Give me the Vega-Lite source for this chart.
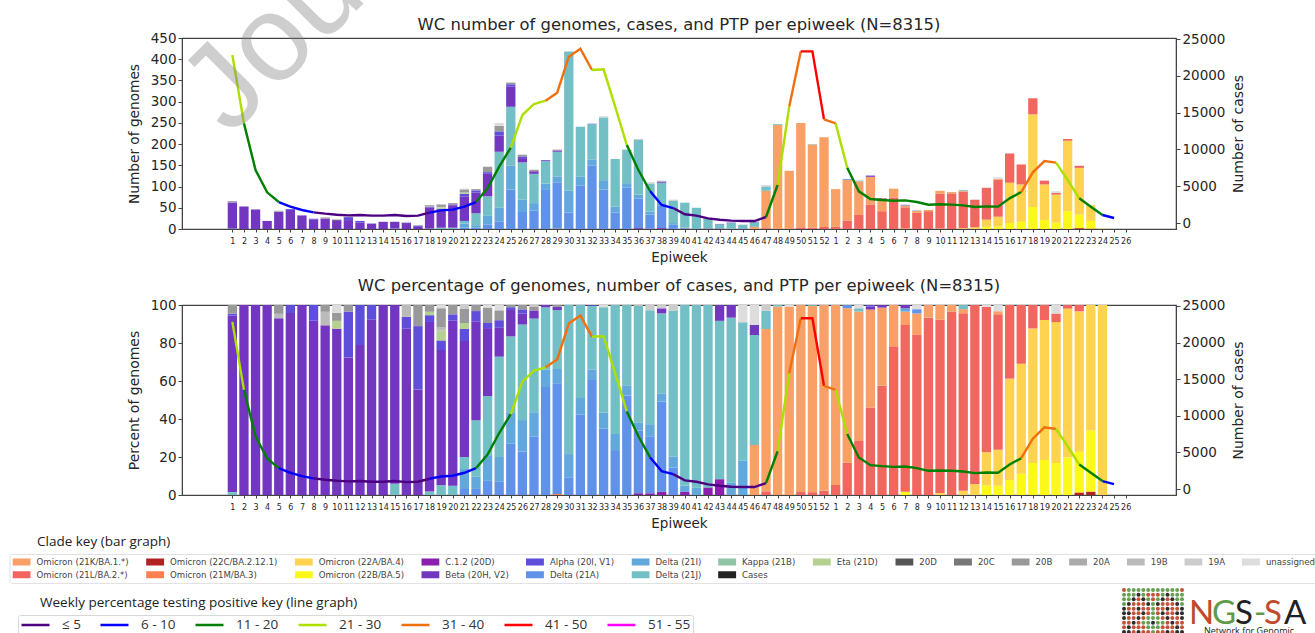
{"$schema":"https://vega.github.io/schema/vega-lite/v6.json","autosize":"none","background":"white","padding":{"left":182,"top":38,"right":1133,"bottom":595},"bounds":"flush","spacing":76,"config":{"font":"DejaVu Sans","view":{"stroke":"#444","strokeWidth":1.2},"axis":{"grid":false,"domainColor":"#444","tickColor":"#444","labelColor":"#262626","titleColor":"#262626","titleFontWeight":"normal"},"title":{"fontWeight":"normal","color":"#262626"}},
"datasets":{"ptp":[
{"i":1,"cases":22826,"seg":1,"ptp":"21 - 30"},{"i":2,"cases":13540,"seg":1,"ptp":"21 - 30"},
{"i":2,"cases":13540,"seg":2,"ptp":"11 - 20"},{"i":3,"cases":7200,"seg":2,"ptp":"11 - 20"},{"i":4,"cases":4170,"seg":2,"ptp":"11 - 20"},{"i":5,"cases":2850,"seg":2,"ptp":"11 - 20"},
{"i":5,"cases":2850,"seg":3,"ptp":"6 - 10"},{"i":6,"cases":2220,"seg":3,"ptp":"6 - 10"},{"i":7,"cases":1770,"seg":3,"ptp":"6 - 10"},{"i":8,"cases":1450,"seg":3,"ptp":"6 - 10"},
{"i":8,"cases":1450,"seg":4,"ptp":"≤ 5"},{"i":9,"cases":1270,"seg":4,"ptp":"≤ 5"},{"i":10,"cases":1130,"seg":4,"ptp":"≤ 5"},{"i":11,"cases":1040,"seg":4,"ptp":"≤ 5"},{"i":12,"cases":1090,"seg":4,"ptp":"≤ 5"},{"i":13,"cases":1000,"seg":4,"ptp":"≤ 5"},{"i":14,"cases":1000,"seg":4,"ptp":"≤ 5"},{"i":15,"cases":1090,"seg":4,"ptp":"≤ 5"},{"i":16,"cases":950,"seg":4,"ptp":"≤ 5"},{"i":17,"cases":1000,"seg":4,"ptp":"≤ 5"},{"i":18,"cases":1400,"seg":4,"ptp":"≤ 5"},
{"i":18,"cases":1400,"seg":5,"ptp":"6 - 10"},{"i":19,"cases":1720,"seg":5,"ptp":"6 - 10"},{"i":20,"cases":1810,"seg":5,"ptp":"6 - 10"},{"i":21,"cases":2220,"seg":5,"ptp":"6 - 10"},{"i":22,"cases":2850,"seg":5,"ptp":"6 - 10"},
{"i":22,"cases":2850,"seg":6,"ptp":"11 - 20"},{"i":23,"cases":4710,"seg":6,"ptp":"11 - 20"},{"i":24,"cases":7650,"seg":6,"ptp":"11 - 20"},{"i":25,"cases":10235,"seg":6,"ptp":"11 - 20"},
{"i":25,"cases":10235,"seg":7,"ptp":"21 - 30"},{"i":26,"cases":14670,"seg":7,"ptp":"21 - 30"},{"i":27,"cases":16170,"seg":7,"ptp":"21 - 30"},{"i":28,"cases":16620,"seg":7,"ptp":"21 - 30"},
{"i":28,"cases":16620,"seg":8,"ptp":"31 - 40"},{"i":29,"cases":17700,"seg":8,"ptp":"31 - 40"},{"i":30,"cases":22600,"seg":8,"ptp":"31 - 40"},{"i":31,"cases":23690,"seg":8,"ptp":"31 - 40"},{"i":32,"cases":20790,"seg":8,"ptp":"31 - 40"},
{"i":32,"cases":20790,"seg":9,"ptp":"21 - 30"},{"i":33,"cases":20880,"seg":9,"ptp":"21 - 30"},{"i":34,"cases":15800,"seg":9,"ptp":"21 - 30"},{"i":35,"cases":10600,"seg":9,"ptp":"21 - 30"},
{"i":35,"cases":10600,"seg":10,"ptp":"11 - 20"},{"i":36,"cases":7200,"seg":10,"ptp":"11 - 20"},{"i":37,"cases":4350,"seg":10,"ptp":"11 - 20"},
{"i":37,"cases":4350,"seg":11,"ptp":"6 - 10"},{"i":38,"cases":2450,"seg":11,"ptp":"6 - 10"},{"i":39,"cases":2030,"seg":11,"ptp":"6 - 10"},
{"i":39,"cases":2030,"seg":12,"ptp":"≤ 5"},{"i":40,"cases":1180,"seg":12,"ptp":"≤ 5"},{"i":41,"cases":1000,"seg":12,"ptp":"≤ 5"},{"i":42,"cases":630,"seg":12,"ptp":"≤ 5"},{"i":43,"cases":450,"seg":12,"ptp":"≤ 5"},{"i":44,"cases":320,"seg":12,"ptp":"≤ 5"},{"i":45,"cases":270,"seg":12,"ptp":"≤ 5"},{"i":46,"cases":270,"seg":12,"ptp":"≤ 5"},{"i":47,"cases":815,"seg":12,"ptp":"≤ 5"},
{"i":47,"cases":815,"seg":13,"ptp":"11 - 20"},{"i":48,"cases":5160,"seg":13,"ptp":"11 - 20"},
{"i":48,"cases":5160,"seg":14,"ptp":"21 - 30"},{"i":49,"cases":15800,"seg":14,"ptp":"21 - 30"},
{"i":49,"cases":15800,"seg":15,"ptp":"31 - 40"},{"i":50,"cases":23320,"seg":15,"ptp":"31 - 40"},
{"i":50,"cases":23320,"seg":16,"ptp":"41 - 50"},{"i":51,"cases":23320,"seg":16,"ptp":"41 - 50"},{"i":52,"cases":14085,"seg":16,"ptp":"41 - 50"},
{"i":52,"cases":14085,"seg":17,"ptp":"31 - 40"},{"i":53,"cases":13540,"seg":17,"ptp":"31 - 40"},
{"i":53,"cases":13540,"seg":18,"ptp":"21 - 30"},{"i":54,"cases":7520,"seg":18,"ptp":"21 - 30"},
{"i":54,"cases":7520,"seg":19,"ptp":"11 - 20"},{"i":55,"cases":4300,"seg":19,"ptp":"11 - 20"},{"i":56,"cases":3260,"seg":19,"ptp":"11 - 20"},{"i":57,"cases":3125,"seg":19,"ptp":"11 - 20"},{"i":58,"cases":3030,"seg":19,"ptp":"11 - 20"},{"i":59,"cases":3080,"seg":19,"ptp":"11 - 20"},{"i":60,"cases":2850,"seg":19,"ptp":"11 - 20"},{"i":61,"cases":2490,"seg":19,"ptp":"11 - 20"},{"i":62,"cases":2540,"seg":19,"ptp":"11 - 20"},{"i":63,"cases":2490,"seg":19,"ptp":"11 - 20"},{"i":64,"cases":2400,"seg":19,"ptp":"11 - 20"},{"i":65,"cases":2170,"seg":19,"ptp":"11 - 20"},{"i":66,"cases":2260,"seg":19,"ptp":"11 - 20"},{"i":67,"cases":2220,"seg":19,"ptp":"11 - 20"},{"i":68,"cases":3350,"seg":19,"ptp":"11 - 20"},{"i":69,"cases":4210,"seg":19,"ptp":"11 - 20"},
{"i":69,"cases":4210,"seg":20,"ptp":"31 - 40"},{"i":70,"cases":6880,"seg":20,"ptp":"31 - 40"},{"i":71,"cases":8420,"seg":20,"ptp":"31 - 40"},{"i":72,"cases":8200,"seg":20,"ptp":"31 - 40"},
{"i":72,"cases":8200,"seg":21,"ptp":"21 - 30"},{"i":73,"cases":5840,"seg":21,"ptp":"21 - 30"},{"i":74,"cases":3350,"seg":21,"ptp":"21 - 30"},
{"i":74,"cases":3350,"seg":22,"ptp":"11 - 20"},{"i":75,"cases":2220,"seg":22,"ptp":"11 - 20"},{"i":76,"cases":1090,"seg":22,"ptp":"11 - 20"},
{"i":76,"cases":1090,"seg":23,"ptp":"6 - 10"},{"i":77,"cases":680,"seg":23,"ptp":"6 - 10"}
],
"genomes":[
{"i":1,"clade":"Delta (21J)","n":1},{"i":1,"clade":"Beta (20H, V2)","n":61},{"i":1,"clade":"Alpha (20I, V1)","n":0.7},{"i":1,"clade":"20B","n":3},
{"i":2,"clade":"Beta (20H, V2)","n":53},{"i":3,"clade":"Beta (20H, V2)","n":46},{"i":4,"clade":"Beta (20H, V2)","n":19},
{"i":5,"clade":"Beta (20H, V2)","n":40},{"i":5,"clade":"19B","n":1},{"i":5,"clade":"20B","n":2},
{"i":6,"clade":"Beta (20H, V2)","n":45},{"i":6,"clade":"Alpha (20I, V1)","n":2},
{"i":7,"clade":"Beta (20H, V2)","n":32},
{"i":8,"clade":"Beta (20H, V2)","n":22},{"i":8,"clade":"Alpha (20I, V1)","n":2},
{"i":9,"clade":"Beta (20H, V2)","n":25},{"i":9,"clade":"19B","n":2},{"i":9,"clade":"20B","n":1},
{"i":10,"clade":"Beta (20H, V2)","n":21},{"i":10,"clade":"Eta (21D)","n":1},{"i":10,"clade":"20B","n":1},{"i":10,"clade":"unassigned","n":1},
{"i":11,"clade":"Beta (20H, V2)","n":21},{"i":11,"clade":"Alpha (20I, V1)","n":7},{"i":11,"clade":"20B","n":1},
{"i":12,"clade":"Beta (20H, V2)","n":15},{"i":12,"clade":"Alpha (20I, V1)","n":4},
{"i":13,"clade":"Beta (20H, V2)","n":12},{"i":13,"clade":"Alpha (20I, V1)","n":1},
{"i":14,"clade":"Beta (20H, V2)","n":17},
{"i":15,"clade":"Delta (21J)","n":1},{"i":15,"clade":"Beta (20H, V2)","n":16},
{"i":16,"clade":"Beta (20H, V2)","n":14},{"i":16,"clade":"Alpha (20I, V1)","n":1},{"i":16,"clade":"19B","n":1},
{"i":17,"clade":"Beta (20H, V2)","n":5},{"i":17,"clade":"Alpha (20I, V1)","n":3},{"i":17,"clade":"20B","n":1},
{"i":18,"clade":"Delta (21J)","n":1},{"i":18,"clade":"Beta (20H, V2)","n":50},{"i":18,"clade":"Alpha (20I, V1)","n":2},{"i":18,"clade":"Eta (21D)","n":1},{"i":18,"clade":"20B","n":2},
{"i":19,"clade":"Delta (21J)","n":3},{"i":19,"clade":"Beta (20H, V2)","n":42},{"i":19,"clade":"Alpha (20I, V1)","n":3},{"i":19,"clade":"Eta (21D)","n":3},{"i":19,"clade":"19B","n":1},{"i":19,"clade":"20B","n":6},{"i":19,"clade":"unassigned","n":1},
{"i":20,"clade":"Delta (21J)","n":3},{"i":20,"clade":"Beta (20H, V2)","n":53},{"i":20,"clade":"Alpha (20I, V1)","n":2},{"i":20,"clade":"20B","n":3},
{"i":21,"clade":"Delta (21A)","n":3},{"i":21,"clade":"Delta (21I)","n":10},{"i":21,"clade":"Delta (21J)","n":6},{"i":21,"clade":"Beta (20H, V2)","n":58},{"i":21,"clade":"Alpha (20I, V1)","n":6},{"i":21,"clade":"Eta (21D)","n":3},{"i":21,"clade":"20B","n":7},{"i":21,"clade":"19A","n":2},
{"i":22,"clade":"Delta (21A)","n":3},{"i":22,"clade":"Delta (21I)","n":6},{"i":22,"clade":"Delta (21J)","n":28},{"i":22,"clade":"Beta (20H, V2)","n":49},{"i":22,"clade":"Alpha (20I, V1)","n":5},{"i":22,"clade":"20B","n":3},
{"i":23,"clade":"Delta (21A)","n":11},{"i":23,"clade":"Delta (21I)","n":20},{"i":23,"clade":"Delta (21J)","n":46},{"i":23,"clade":"Beta (20H, V2)","n":53},{"i":23,"clade":"Alpha (20I, V1)","n":4},{"i":23,"clade":"20B","n":12},{"i":23,"clade":"unassigned","n":2},
{"i":24,"clade":"Delta (21A)","n":18},{"i":24,"clade":"Delta (21I)","n":32},{"i":24,"clade":"Delta (21J)","n":132},{"i":24,"clade":"Beta (20H, V2)","n":38},{"i":24,"clade":"Alpha (20I, V1)","n":10},{"i":24,"clade":"20B","n":13},{"i":24,"clade":"unassigned","n":7},
{"i":25,"clade":"Delta (21A)","n":93},{"i":25,"clade":"Delta (21I)","n":56},{"i":25,"clade":"Delta (21J)","n":139},{"i":25,"clade":"Beta (20H, V2)","n":48},{"i":25,"clade":"Alpha (20I, V1)","n":5},{"i":25,"clade":"20B","n":4},
{"i":26,"clade":"Delta (21A)","n":40},{"i":26,"clade":"Delta (21I)","n":29},{"i":26,"clade":"Delta (21J)","n":88},{"i":26,"clade":"Beta (20H, V2)","n":10},{"i":26,"clade":"Alpha (20I, V1)","n":4},{"i":26,"clade":"20B","n":4},
{"i":27,"clade":"Delta (21A)","n":43},{"i":27,"clade":"Delta (21I)","n":18},{"i":27,"clade":"Delta (21J)","n":69},{"i":27,"clade":"Beta (20H, V2)","n":6},{"i":27,"clade":"20B","n":3},{"i":27,"clade":"19A","n":1},
{"i":28,"clade":"Delta (21A)","n":92},{"i":28,"clade":"Delta (21I)","n":15},{"i":28,"clade":"Delta (21J)","n":53},{"i":28,"clade":"Beta (20H, V2)","n":2},
{"i":29,"clade":"Omicron (21M/BA.3)","n":1},{"i":29,"clade":"Delta (21A)","n":109},{"i":29,"clade":"Delta (21I)","n":14},{"i":29,"clade":"Delta (21J)","n":58},{"i":29,"clade":"Beta (20H, V2)","n":3},{"i":29,"clade":"20B","n":2},
{"i":30,"clade":"Delta (21A)","n":39},{"i":30,"clade":"Delta (21I)","n":51},{"i":30,"clade":"Delta (21J)","n":328},
{"i":31,"clade":"Delta (21A)","n":102},{"i":31,"clade":"Delta (21I)","n":21},{"i":31,"clade":"Delta (21J)","n":118},
{"i":32,"clade":"Delta (21A)","n":150},{"i":32,"clade":"Delta (21I)","n":14},{"i":32,"clade":"Delta (21J)","n":83},{"i":32,"clade":"Alpha (20I, V1)","n":1},
{"i":33,"clade":"Delta (21A)","n":93},{"i":33,"clade":"Delta (21I)","n":22},{"i":33,"clade":"Delta (21J)","n":148},{"i":33,"clade":"unassigned","n":3},
{"i":34,"clade":"Delta (21A)","n":39},{"i":34,"clade":"Delta (21I)","n":14},{"i":34,"clade":"Delta (21J)","n":112},
{"i":35,"clade":"Delta (21A)","n":98},{"i":35,"clade":"Delta (21I)","n":10},{"i":35,"clade":"Delta (21J)","n":79},
{"i":36,"clade":"C.1.2 (20D)","n":2},{"i":36,"clade":"Delta (21A)","n":70},{"i":36,"clade":"Delta (21I)","n":9},{"i":36,"clade":"Delta (21J)","n":130},{"i":36,"clade":"19A","n":1},
{"i":37,"clade":"C.1.2 (20D)","n":1},{"i":37,"clade":"Delta (21A)","n":33},{"i":37,"clade":"Delta (21I)","n":7},{"i":37,"clade":"Delta (21J)","n":66},{"i":37,"clade":"19A","n":3},
{"i":38,"clade":"C.1.2 (20D)","n":2},{"i":38,"clade":"Delta (21A)","n":54},{"i":38,"clade":"Delta (21I)","n":5},{"i":38,"clade":"Delta (21J)","n":48},{"i":38,"clade":"Beta (20H, V2)","n":3},{"i":38,"clade":"19A","n":2},
{"i":39,"clade":"Delta (21A)","n":10},{"i":39,"clade":"Delta (21I)","n":4},{"i":39,"clade":"Delta (21J)","n":53},{"i":39,"clade":"19A","n":2},
{"i":40,"clade":"C.1.2 (20D)","n":1},{"i":40,"clade":"Delta (21I)","n":2},{"i":40,"clade":"Delta (21J)","n":59},
{"i":41,"clade":"Delta (21I)","n":2},{"i":41,"clade":"Delta (21J)","n":48},
{"i":42,"clade":"C.1.2 (20D)","n":1},{"i":42,"clade":"Delta (21J)","n":24},
{"i":43,"clade":"C.1.2 (20D)","n":1},{"i":43,"clade":"Delta (21J)","n":10},{"i":43,"clade":"Beta (20H, V2)","n":1},
{"i":44,"clade":"Delta (21I)","n":1},{"i":44,"clade":"Delta (21J)","n":13},{"i":44,"clade":"Beta (20H, V2)","n":1},
{"i":45,"clade":"Delta (21I)","n":2},{"i":45,"clade":"Delta (21J)","n":8},{"i":45,"clade":"unassigned","n":1},
{"i":46,"clade":"Omicron (21K/BA.1.*)","n":5},{"i":46,"clade":"Delta (21J)","n":11},{"i":46,"clade":"Beta (20H, V2)","n":1},{"i":46,"clade":"unassigned","n":2},
{"i":47,"clade":"Omicron (21L/BA.2.*)","n":2},{"i":47,"clade":"Omicron (21K/BA.1.*)","n":88},{"i":47,"clade":"Delta (21J)","n":10},{"i":47,"clade":"19A","n":3},
{"i":48,"clade":"Omicron (21K/BA.1.*)","n":245},{"i":48,"clade":"Delta (21J)","n":2},
{"i":49,"clade":"Omicron (21K/BA.1.*)","n":137},{"i":49,"clade":"unassigned","n":1},
{"i":50,"clade":"Omicron (21L/BA.2.*)","n":4},{"i":50,"clade":"Omicron (21K/BA.1.*)","n":246},
{"i":51,"clade":"Omicron (21L/BA.2.*)","n":3},{"i":51,"clade":"Omicron (21K/BA.1.*)","n":196},{"i":51,"clade":"Delta (21J)","n":1},
{"i":52,"clade":"Omicron (21L/BA.2.*)","n":5},{"i":52,"clade":"Omicron (21K/BA.1.*)","n":211},
{"i":53,"clade":"Omicron (21L/BA.2.*)","n":5},{"i":53,"clade":"Omicron (21K/BA.1.*)","n":89},
{"i":54,"clade":"Omicron (21L/BA.2.*)","n":20},{"i":54,"clade":"Omicron (21K/BA.1.*)","n":96},{"i":54,"clade":"Delta (21A)","n":2},
{"i":55,"clade":"Omicron (21L/BA.2.*)","n":33},{"i":55,"clade":"Omicron (21K/BA.1.*)","n":79},{"i":55,"clade":"Delta (21J)","n":2},{"i":55,"clade":"unassigned","n":2},
{"i":56,"clade":"Omicron (21L/BA.2.*)","n":58},{"i":56,"clade":"Omicron (21K/BA.1.*)","n":65},{"i":56,"clade":"Beta (20H, V2)","n":2},{"i":56,"clade":"Alpha (20I, V1)","n":1},
{"i":57,"clade":"Omicron (21L/BA.2.*)","n":42},{"i":57,"clade":"Omicron (21K/BA.1.*)","n":30},{"i":57,"clade":"Beta (20H, V2)","n":1},
{"i":58,"clade":"Omicron (21L/BA.2.*)","n":74},{"i":58,"clade":"Omicron (21K/BA.1.*)","n":21},
{"i":59,"clade":"Omicron (22B/BA.5)","n":1},{"i":59,"clade":"Omicron (21L/BA.2.*)","n":50},{"i":59,"clade":"Omicron (21K/BA.1.*)","n":4},{"i":59,"clade":"Delta (21I)","n":1},{"i":59,"clade":"Beta (20H, V2)","n":1},
{"i":60,"clade":"Omicron (21L/BA.2.*)","n":38},{"i":60,"clade":"Omicron (21K/BA.1.*)","n":5},{"i":60,"clade":"Delta (21A)","n":1},{"i":60,"clade":"unassigned","n":1},
{"i":61,"clade":"Omicron (21L/BA.2.*)","n":42},{"i":61,"clade":"Omicron (21K/BA.1.*)","n":3},
{"i":62,"clade":"Omicron (22A/BA.4)","n":1},{"i":62,"clade":"Omicron (21L/BA.2.*)","n":82},{"i":62,"clade":"Omicron (21K/BA.1.*)","n":7},
{"i":63,"clade":"Omicron (21L/BA.2.*)","n":84},{"i":63,"clade":"Omicron (21K/BA.1.*)","n":3},
{"i":64,"clade":"Omicron (22A/BA.4)","n":2},{"i":64,"clade":"Omicron (21L/BA.2.*)","n":86},{"i":64,"clade":"Omicron (21K/BA.1.*)","n":2},{"i":64,"clade":"Delta (21J)","n":2},
{"i":65,"clade":"Omicron (22A/BA.4)","n":4},{"i":65,"clade":"Omicron (21L/BA.2.*)","n":65},
{"i":66,"clade":"Omicron (22B/BA.5)","n":5},{"i":66,"clade":"Omicron (22A/BA.4)","n":17},{"i":66,"clade":"Omicron (21L/BA.2.*)","n":75},{"i":66,"clade":"unassigned","n":1},
{"i":67,"clade":"Omicron (22B/BA.5)","n":6},{"i":67,"clade":"Omicron (22A/BA.4)","n":23},{"i":67,"clade":"Omicron (21L/BA.2.*)","n":87},{"i":67,"clade":"Omicron (21K/BA.1.*)","n":2},{"i":67,"clade":"unassigned","n":4},
{"i":68,"clade":"Omicron (22B/BA.5)","n":14},{"i":68,"clade":"Omicron (22A/BA.4)","n":95},{"i":68,"clade":"Omicron (21L/BA.2.*)","n":69},
{"i":69,"clade":"Omicron (22B/BA.5)","n":17},{"i":69,"clade":"Omicron (22A/BA.4)","n":88},{"i":69,"clade":"Omicron (21L/BA.2.*)","n":47},
{"i":70,"clade":"Omicron (22B/BA.5)","n":52},{"i":70,"clade":"Omicron (22A/BA.4)","n":218},{"i":70,"clade":"Omicron (21L/BA.2.*)","n":38},
{"i":71,"clade":"Omicron (22B/BA.5)","n":21},{"i":71,"clade":"Omicron (22A/BA.4)","n":84},{"i":71,"clade":"Omicron (21L/BA.2.*)","n":9},
{"i":72,"clade":"Omicron (22B/BA.5)","n":15},{"i":72,"clade":"Omicron (22A/BA.4)","n":66},{"i":72,"clade":"Omicron (21L/BA.2.*)","n":4},{"i":72,"clade":"unassigned","n":4},
{"i":73,"clade":"Omicron (22B/BA.5)","n":42},{"i":73,"clade":"Omicron (22A/BA.4)","n":166},{"i":73,"clade":"Omicron (21L/BA.2.*)","n":4},
{"i":74,"clade":"Omicron (22C/BA.2.12.1)","n":2},{"i":74,"clade":"Omicron (22B/BA.5)","n":32},{"i":74,"clade":"Omicron (22A/BA.4)","n":110},{"i":74,"clade":"Omicron (21L/BA.2.*)","n":5},
{"i":75,"clade":"Omicron (22C/BA.2.12.1)","n":1},{"i":75,"clade":"Omicron (22B/BA.5)","n":18},{"i":75,"clade":"Omicron (22A/BA.4)","n":37},
{"i":76,"clade":"Omicron (22A/BA.4)","n":1}
],
"beads":[
{"c":0,"r":0,"k":"R"},{"c":1,"r":0,"k":"G"},{"c":2,"r":0,"k":"G"},{"c":3,"r":0,"k":"G"},{"c":4,"r":0,"k":"G"},{"c":5,"r":0,"k":"G"},{"c":6,"r":0,"k":"G"},{"c":7,"r":0,"k":"G"},{"c":8,"r":0,"k":"G"},{"c":9,"r":0,"k":"G"},{"c":10,"r":0,"k":"G"},{"c":11,"r":0,"k":"G"},{"c":12,"r":0,"k":"R"},
{"c":0,"r":1,"k":"G"},{"c":1,"r":1,"k":"G"},{"c":2,"r":1,"k":"G"},{"c":3,"r":1,"k":"K"},{"c":4,"r":1,"k":"G"},{"c":5,"r":1,"k":"R"},{"c":6,"r":1,"k":"R"},{"c":7,"r":1,"k":"R"},{"c":8,"r":1,"k":"G"},{"c":9,"r":1,"k":"K"},{"c":10,"r":1,"k":"G"},{"c":11,"r":1,"k":"G"},{"c":12,"r":1,"k":"G"},
{"c":0,"r":2,"k":"G"},{"c":1,"r":2,"k":"G"},{"c":2,"r":2,"k":"K"},{"c":3,"r":2,"k":"R"},{"c":4,"r":2,"k":"K"},{"c":5,"r":2,"k":"G"},{"c":6,"r":2,"k":"R"},{"c":7,"r":2,"k":"G"},{"c":8,"r":2,"k":"K"},{"c":9,"r":2,"k":"R"},{"c":10,"r":2,"k":"K"},{"c":11,"r":2,"k":"G"},{"c":12,"r":2,"k":"G"},
{"c":0,"r":3,"k":"G"},{"c":1,"r":3,"k":"K"},{"c":2,"r":3,"k":"R"},{"c":3,"r":3,"k":"R"},{"c":4,"r":3,"k":"R"},{"c":5,"r":3,"k":"K"},{"c":6,"r":3,"k":"G"},{"c":7,"r":3,"k":"K"},{"c":8,"r":3,"k":"R"},{"c":9,"r":3,"k":"R"},{"c":10,"r":3,"k":"R"},{"c":11,"r":3,"k":"K"},{"c":12,"r":3,"k":"G"},
{"c":0,"r":4,"k":"K"},{"c":1,"r":4,"k":"R"},{"c":2,"r":4,"k":"R"},{"c":3,"r":4,"k":"K"},{"c":4,"r":4,"k":"R"},{"c":5,"r":4,"k":"R"},{"c":6,"r":4,"k":"G"},{"c":7,"r":4,"k":"R"},{"c":8,"r":4,"k":"R"},{"c":9,"r":4,"k":"K"},{"c":10,"r":4,"k":"R"},{"c":11,"r":4,"k":"R"},{"c":12,"r":4,"k":"K"},
{"c":0,"r":5,"k":"K"},{"c":1,"r":5,"k":"K"},{"c":2,"r":5,"k":"R"},{"c":3,"r":5,"k":"R"},{"c":4,"r":5,"k":"K"},{"c":5,"r":5,"k":"R"},{"c":6,"r":5,"k":"G"},{"c":7,"r":5,"k":"R"},{"c":8,"r":5,"k":"K"},{"c":9,"r":5,"k":"R"},{"c":10,"r":5,"k":"R"},{"c":11,"r":5,"k":"K"},{"c":12,"r":5,"k":"K"},
{"c":0,"r":6,"k":"K"},{"c":1,"r":6,"k":"R"},{"c":2,"r":6,"k":"R"},{"c":3,"r":6,"k":"K"},{"c":4,"r":6,"k":"R"},{"c":5,"r":6,"k":"G"},{"c":6,"r":6,"k":"G"},{"c":7,"r":6,"k":"G"},{"c":8,"r":6,"k":"R"},{"c":9,"r":6,"k":"K"},{"c":10,"r":6,"k":"R"},{"c":11,"r":6,"k":"R"},{"c":12,"r":6,"k":"K"},
{"c":0,"r":7,"k":"R"},{"c":1,"r":7,"k":"R"},{"c":2,"r":7,"k":"K"},{"c":3,"r":7,"k":"R"},{"c":4,"r":7,"k":"G"},{"c":5,"r":7,"k":"G"},{"c":6,"r":7,"k":"K"},{"c":7,"r":7,"k":"G"},{"c":8,"r":7,"k":"G"},{"c":9,"r":7,"k":"R"},{"c":10,"r":7,"k":"K"},{"c":11,"r":7,"k":"R"},{"c":12,"r":7,"k":"R"},
{"c":0,"r":8,"k":"R"},{"c":1,"r":8,"k":"K"},{"c":2,"r":8,"k":"R"},{"c":3,"r":8,"k":"R"},{"c":4,"r":8,"k":"R"},{"c":5,"r":8,"k":"G"},{"c":6,"r":8,"k":"G"},{"c":7,"r":8,"k":"G"},{"c":8,"r":8,"k":"R"},{"c":9,"r":8,"k":"R"},{"c":10,"r":8,"k":"R"},{"c":11,"r":8,"k":"K"},{"c":12,"r":8,"k":"R"},
{"c":0,"r":9,"k":"K"},{"c":1,"r":9,"k":"K"},{"c":2,"r":9,"k":"R"},{"c":3,"r":9,"k":"K"},{"c":4,"r":9,"k":"R"},{"c":5,"r":9,"k":"R"},{"c":6,"r":9,"k":"G"},{"c":7,"r":9,"k":"R"},{"c":8,"r":9,"k":"R"},{"c":9,"r":9,"k":"K"},{"c":10,"r":9,"k":"R"},{"c":11,"r":9,"k":"K"},{"c":12,"r":9,"k":"K"}
]},
"vconcat":[
{"width":994,"height":191,
"encoding":{"x":{"type":"quantitative","scale":{"domain":[-3.34,82.34],"nice":false,"zero":false,"padding":0},"axis":{"values":[1,2,3,4,5,6,7,8,9,10,11,12,13,14,15,16,17,18,19,20,21,22,23,24,25,26,27,28,29,30,31,32,33,34,35,36,37,38,39,40,41,42,43,44,45,46,47,48,49,50,51,52,53,54,55,56,57,58,59,60,61,62,63,64,65,66,67,68,69,70,71,72,73,74,75,76,77,78],"labelExpr":"datum.value<=52?datum.value:datum.value-52","labelFontSize":8,"labelOverlap":false,"labelBound":false,"labelFlush":false,"tickSize":3,"labelPadding":5,"title":"Epiweek","titleFontSize":13.5,"titlePadding":5}}},
"layer":[
{"data":{"name":"genomes"},"transform":[{"calculate":"indexof(['Omicron (22C/BA.2.12.1)','Omicron (22B/BA.5)','Omicron (22A/BA.4)','Omicron (21L/BA.2.*)','Omicron (21M/BA.3)','Omicron (21K/BA.1.*)','C.1.2 (20D)','Delta (21A)','Delta (21I)','Delta (21J)','Kappa (21B)','Beta (20H, V2)','Alpha (20I, V1)','Eta (21D)','19B','20A','20D','20C','20B','19A','unassigned'],datum.clade)","as":"rank"}],
"mark":{"type":"bar","width":9.3,"orient":"vertical"},
"encoding":{"x":{"field":"i"},
"y":{"field":"n","type":"quantitative","stack":"zero","scale":{"domain":[0,450],"nice":false},"axis":{"orient":"left","values":[0,50,100,150,200,250,300,350,400,450],"labelFontSize":13.5,"title":"Number of genomes","titleFontSize":13.7,"tickSize":4,"titlePadding":9}},
"order":{"field":"rank","type":"quantitative"},
"color":{"field":"clade","type":"nominal","scale":{"domain":["Omicron (21K/BA.1.*)","Omicron (22C/BA.2.12.1)","Omicron (22A/BA.4)","C.1.2 (20D)","Alpha (20I, V1)","Delta (21I)","Kappa (21B)","Eta (21D)","20D","20C","20B","20A","19B","19A","unassigned","Omicron (21L/BA.2.*)","Omicron (21M/BA.3)","Omicron (22B/BA.5)","Beta (20H, V2)","Delta (21A)","Delta (21J)","Cases"],"range":["#F9A066","#B22222","#FFD24F","#8A1FB0","#5F4DDC","#62A8DC","#8FC4A8","#B5D08F","#555555","#777777","#999999","#aaaaaa","#bbbbbb","#cccccc","#dddddd","#F26660","#FF7F50","#FCF81A","#7236C0","#5F92E8","#73BFC6","#222222"]},
"legend":{"orient":"none","direction":"horizontal","legendX":-172.5,"legendY":516,"title":null,"columns":15,"labelFontSize":8.6,"labelColor":"#444","symbolType":"M-1,-0.39H1V0.39H-1Z","symbolSize":324,"symbolStrokeWidth":0,"columnPadding":16.6,"rowPadding":3,"clipHeight":9.5,"labelOffset":6,"strokeColor":"#e2e2e2","fillColor":"white","padding":3,"cornerRadius":2,"encoding":{"symbols":{"update":{"shape":{"signal":"datum.value==='Cases'?'M-1,-0.1H1V0.1H-1Z':'M-1,-0.39H1V0.39H-1Z'"}}}}}}}},
{"data":{"name":"ptp"},"mark":{"type":"line","strokeWidth":2.4},
"encoding":{"x":{"field":"i"},
"y":{"field":"cases","type":"quantitative","scale":{"domain":[-815,25136],"nice":false,"zero":false},"axis":{"orient":"right","format":"d","values":[0,5000,10000,15000,20000,25000],"labelFontSize":13.5,"title":"Number of cases","titleAngle":270,"titleFontSize":14,"tickSize":4,"titlePadding":21}},
"detail":{"field":"seg"},
"color":{"field":"ptp","type":"nominal","scale":{"domain":["≤ 5","6 - 10","11 - 20","21 - 30","31 - 40","41 - 50","51 - 55"],"range":["#4B0082","#0000FF","#008000","#ADDF00","#F07010","#FF0000","#FF00FF"]},
"legend":{"orient":"none","direction":"horizontal","legendX":-164,"legendY":577,"title":null,"columns":7,"labelFontSize":13.5,"labelFont":"Open Sans","labelColor":"#333","symbolType":"stroke","symbolSize":784,"symbolStrokeWidth":2.5,"columnPadding":18,"clipHeight":16,"labelOffset":11,"strokeColor":"#d8d8d8","fillColor":"white","padding":2,"cornerRadius":2}}}},
{"data":{"values":[{}]},"mark":{"type":"text","text":"Journal Pre-proof","font":"Liberation Sans","fontSize":122,"angle":-45,"align":"left","baseline":"alphabetic","color":"#808080","opacity":0.38},
"encoding":{"x":{"datum":0.8,"type":"quantitative","scale":{"domain":[-3.34,82.34],"nice":false,"zero":false,"padding":0},"axis":{"values":[1,2,3,4,5,6,7,8,9,10,11,12,13,14,15,16,17,18,19,20,21,22,23,24,25,26,27,28,29,30,31,32,33,34,35,36,37,38,39,40,41,42,43,44,45,46,47,48,49,50,51,52,53,54,55,56,57,58,59,60,61,62,63,64,65,66,67,68,69,70,71,72,73,74,75,76,77,78],"labelExpr":"datum.value<=52?datum.value:datum.value-52","labelFontSize":8,"labelOverlap":false,"labelBound":false,"labelFlush":false,"tickSize":3,"labelPadding":5,"title":"Epiweek","titleFontSize":13.5,"titlePadding":5}},"y":{"datum":216.8,"type":"quantitative","scale":{"domain":[0,450],"nice":false},"axis":null}}},
{"data":{"values":[{}]},"mark":{"type":"text","text":"WC number of genomes, cases, and PTP per epiweek (N=8315)","fontSize":16.4,"align":"center","baseline":"middle","color":"#262626"},
"encoding":{"x":{"datum":39.5,"type":"quantitative","scale":{"domain":[-3.34,82.34],"nice":false,"zero":false,"padding":0},"axis":{"values":[1,2,3,4,5,6,7,8,9,10,11,12,13,14,15,16,17,18,19,20,21,22,23,24,25,26,27,28,29,30,31,32,33,34,35,36,37,38,39,40,41,42,43,44,45,46,47,48,49,50,51,52,53,54,55,56,57,58,59,60,61,62,63,64,65,66,67,68,69,70,71,72,73,74,75,76,77,78],"labelExpr":"datum.value<=52?datum.value:datum.value-52","labelFontSize":8,"labelOverlap":false,"labelBound":false,"labelFlush":false,"tickSize":3,"labelPadding":5,"title":"Epiweek","titleFontSize":13.5,"titlePadding":5}},"y":{"datum":480.7,"type":"quantitative","scale":{"domain":[0,450],"nice":false},"axis":null}}}
],"resolve":{"scale":{"y":"independent","color":"independent"}}},
{"width":994,"height":190,"title":{"text":"WC percentage of genomes, number of cases, and PTP per epiweek (N=8315)","fontSize":16.4,"offset":4},
"encoding":{"x":{"type":"quantitative","scale":{"domain":[-3.34,82.34],"nice":false,"zero":false,"padding":0},"axis":{"values":[1,2,3,4,5,6,7,8,9,10,11,12,13,14,15,16,17,18,19,20,21,22,23,24,25,26,27,28,29,30,31,32,33,34,35,36,37,38,39,40,41,42,43,44,45,46,47,48,49,50,51,52,53,54,55,56,57,58,59,60,61,62,63,64,65,66,67,68,69,70,71,72,73,74,75,76,77,78],"labelExpr":"datum.value<=52?datum.value:datum.value-52","labelFontSize":8,"labelOverlap":false,"labelBound":false,"labelFlush":false,"tickSize":3,"labelPadding":5,"title":"Epiweek","titleFontSize":13.5,"titlePadding":5}}},
"layer":[
{"data":{"name":"genomes"},"transform":[{"calculate":"indexof(['Omicron (22C/BA.2.12.1)','Omicron (22B/BA.5)','Omicron (22A/BA.4)','Omicron (21L/BA.2.*)','Omicron (21M/BA.3)','Omicron (21K/BA.1.*)','C.1.2 (20D)','Delta (21A)','Delta (21I)','Delta (21J)','Kappa (21B)','Beta (20H, V2)','Alpha (20I, V1)','Eta (21D)','19B','20A','20D','20C','20B','19A','unassigned'],datum.clade)","as":"rank"}],
"mark":{"type":"bar","width":9.3,"orient":"vertical"},
"encoding":{"x":{"field":"i"},
"y":{"field":"n","type":"quantitative","stack":"normalize","scale":{"domain":[0,1],"nice":false},"axis":{"orient":"left","values":[0,0.2,0.4,0.6,0.8,1],"labelExpr":"round(datum.value*100)","labelFontSize":13.5,"title":"Percent of genomes","titleFontSize":14,"tickSize":4,"titlePadding":9}},
"order":{"field":"rank","type":"quantitative"},
"color":{"field":"clade","type":"nominal","scale":{"domain":["Omicron (21K/BA.1.*)","Omicron (22C/BA.2.12.1)","Omicron (22A/BA.4)","C.1.2 (20D)","Alpha (20I, V1)","Delta (21I)","Kappa (21B)","Eta (21D)","20D","20C","20B","20A","19B","19A","unassigned","Omicron (21L/BA.2.*)","Omicron (21M/BA.3)","Omicron (22B/BA.5)","Beta (20H, V2)","Delta (21A)","Delta (21J)","Cases"],"range":["#F9A066","#B22222","#FFD24F","#8A1FB0","#5F4DDC","#62A8DC","#8FC4A8","#B5D08F","#555555","#777777","#999999","#aaaaaa","#bbbbbb","#cccccc","#dddddd","#F26660","#FF7F50","#FCF81A","#7236C0","#5F92E8","#73BFC6","#222222"]},"legend":null}}},
{"data":{"name":"ptp"},"mark":{"type":"line","strokeWidth":2.4},
"encoding":{"x":{"field":"i"},
"y":{"field":"cases","type":"quantitative","scale":{"domain":[-815,25136],"nice":false,"zero":false},"axis":{"orient":"right","format":"d","values":[0,5000,10000,15000,20000,25000],"labelFontSize":13.5,"title":"Number of cases","titleAngle":270,"titleFontSize":14,"tickSize":4,"titlePadding":21}},
"detail":{"field":"seg"},
"color":{"field":"ptp","type":"nominal","scale":{"domain":["≤ 5","6 - 10","11 - 20","21 - 30","31 - 40","41 - 50","51 - 55"],"range":["#4B0082","#0000FF","#008000","#ADDF00","#F07010","#FF0000","#FF00FF"]},"legend":null}}}
],"resolve":{"scale":{"y":"independent","color":"independent"}}},
{"width":1133,"height":62,"view":{"stroke":null},
"layer":[
{"data":{"values":[{}]},"mark":{"type":"text","text":"Clade key (bar graph)","font":"Open Sans","fontSize":13.5,"align":"left","color":"#222"},"encoding":{"x":{"datum":37,"type":"quantitative","scale":{"domain":[182,1315],"nice":false,"zero":false},"axis":null},"y":{"datum":542,"type":"quantitative","scale":{"domain":[633,571],"nice":false,"zero":false},"axis":null}}},
{"data":{"values":[{}]},"mark":{"type":"text","text":"Weekly percentage testing positive key (line graph)","font":"Open Sans","fontSize":13.5,"align":"left","color":"#222"},"encoding":{"x":{"datum":40,"type":"quantitative","scale":{"domain":[182,1315],"nice":false,"zero":false},"axis":null},"y":{"datum":603,"type":"quantitative","scale":{"domain":[633,571],"nice":false,"zero":false},"axis":null}}},
{"data":{"values":[{}]},"mark":{"type":"text","text":"N","font":"Lato","fontSize":33,"align":"left","baseline":"alphabetic","color":"#C0492E"},"encoding":{"x":{"datum":1189,"type":"quantitative","scale":{"domain":[182,1315],"nice":false,"zero":false},"axis":null},"y":{"datum":624,"type":"quantitative","scale":{"domain":[633,571],"nice":false,"zero":false},"axis":null}}},
{"data":{"values":[{}]},"mark":{"type":"text","text":"G","font":"Lato","fontSize":33,"align":"left","baseline":"alphabetic","color":"#5F9A4A"},"encoding":{"x":{"datum":1212,"type":"quantitative","scale":{"domain":[182,1315],"nice":false,"zero":false},"axis":null},"y":{"datum":624,"type":"quantitative","scale":{"domain":[633,571],"nice":false,"zero":false},"axis":null}}},
{"data":{"values":[{}]},"mark":{"type":"text","text":"S","font":"Lato","fontSize":33,"align":"left","baseline":"alphabetic","color":"#222"},"encoding":{"x":{"datum":1235,"type":"quantitative","scale":{"domain":[182,1315],"nice":false,"zero":false},"axis":null},"y":{"datum":624,"type":"quantitative","scale":{"domain":[633,571],"nice":false,"zero":false},"axis":null}}},
{"data":{"values":[{}]},"mark":{"type":"text","text":"-","font":"Lato","fontSize":33,"align":"left","baseline":"alphabetic","color":"#5F9A4A"},"encoding":{"x":{"datum":1254,"type":"quantitative","scale":{"domain":[182,1315],"nice":false,"zero":false},"axis":null},"y":{"datum":624,"type":"quantitative","scale":{"domain":[633,571],"nice":false,"zero":false},"axis":null}}},
{"data":{"values":[{}]},"mark":{"type":"text","text":"S","font":"Lato","fontSize":33,"align":"left","baseline":"alphabetic","color":"#C0492E"},"encoding":{"x":{"datum":1264,"type":"quantitative","scale":{"domain":[182,1315],"nice":false,"zero":false},"axis":null},"y":{"datum":624,"type":"quantitative","scale":{"domain":[633,571],"nice":false,"zero":false},"axis":null}}},
{"data":{"values":[{}]},"mark":{"type":"text","text":"A","font":"Lato","fontSize":33,"align":"left","baseline":"alphabetic","color":"#222"},"encoding":{"x":{"datum":1284,"type":"quantitative","scale":{"domain":[182,1315],"nice":false,"zero":false},"axis":null},"y":{"datum":624,"type":"quantitative","scale":{"domain":[633,571],"nice":false,"zero":false},"axis":null}}},
{"data":{"values":[{}]},"mark":{"type":"text","text":"Network for Genomic","font":"Open Sans","fontSize":9,"align":"center","color":"#222"},"encoding":{"x":{"datum":1249,"type":"quantitative","scale":{"domain":[182,1315],"nice":false,"zero":false},"axis":null},"y":{"datum":631,"type":"quantitative","scale":{"domain":[633,571],"nice":false,"zero":false},"axis":null}}},
{"data":{"name":"beads"},"mark":{"type":"point","filled":true,"size":16,"opacity":0.95},"encoding":{"x":{"field":"c","type":"quantitative","scale":{"domain":[0,12],"range":[942,1000],"nice":false,"zero":false},"axis":null},"y":{"field":"r","type":"quantitative","scale":{"domain":[0,9],"range":[19,61],"nice":false,"zero":false},"axis":null},"color":{"field":"k","type":"nominal","scale":{"domain":["R","G","K"],"range":["#C0492E","#5F9A4A","#222222"]},"legend":null}}}
],"resolve":{"scale":{"x":"independent","y":"independent"}}}
]}
